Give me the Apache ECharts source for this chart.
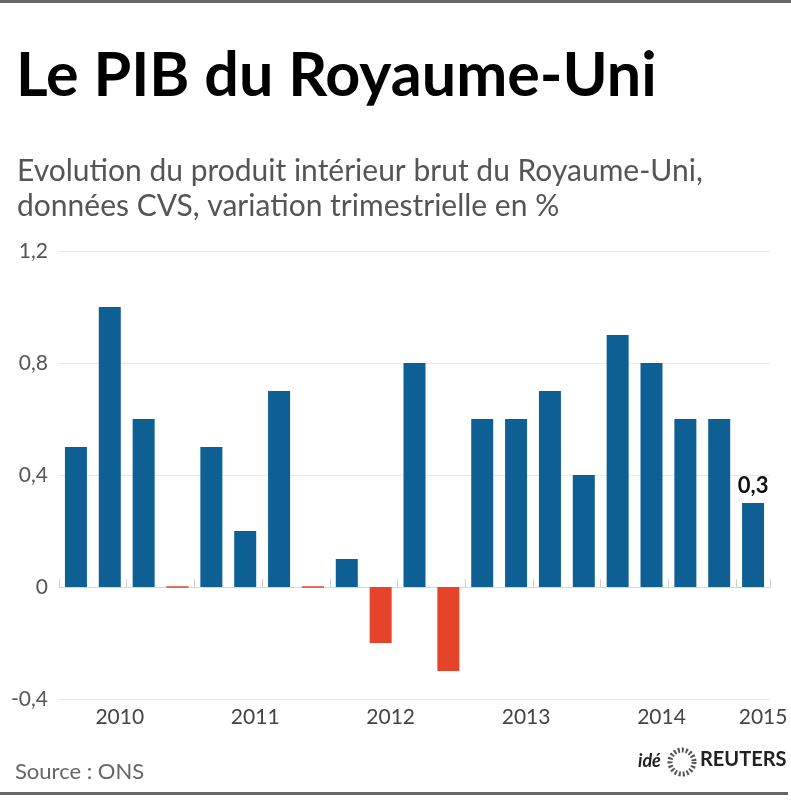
<!DOCTYPE html>
<html><head><meta charset="utf-8">
<script src="https://cdn.jsdelivr.net/npm/echarts@6/dist/echarts.min.js"></script>
<style>html,body{margin:0;padding:0;background:#fff;}#c{width:791px;height:800px;}</style>
</head><body><div id="c"></div>
<script>
const quarters = ['2010T1','2010T2','2010T3','2010T4','2011T1','2011T2','2011T3','2011T4','2012T1','2012T2','2012T3','2012T4','2013T1','2013T2','2013T3','2013T4','2014T1','2014T2','2014T3','2014T4','2015T1'];
const values = [0.5,1.0,0.6,0.0,0.5,0.2,0.7,0.0,0.1,-0.2,0.8,-0.3,0.6,0.6,0.7,0.4,0.9,0.8,0.6,0.6,0.3];
const yearLabels = {1:'2010',5:'2011',9:'2012',13:'2013',17:'2014',20:'2015'};
const yTicks = {min:-0.4,max:1.2,interval:0.4};
const BLUE = '#0d5f94', RED = '#e5432a';

const chart = echarts.init(document.getElementById('c'), null, {renderer:'canvas'});
chart.setOption({
  backgroundColor:'#fff',
  animation:false,
  grid:{left:59,right:21,top:251,bottom:101},
  xAxis:[{
    type:'category', data:quarters, boundaryGap:true,
    axisLine:{show:true,onZero:true,lineStyle:{color:'#d8d8d8',width:1}},
    axisTick:{show:true,inside:true,length:8,lineStyle:{color:'#cfcfcf'}},
    axisLabel:{show:false}
  },{
    type:'category', data:quarters, position:'bottom', boundaryGap:true,
    axisLine:{show:false,onZero:false}, axisTick:{show:false},
    axisLabel:{show:true,interval:0,margin:8,color:'#444',fontFamily:'Lato',fontSize:21,
      padding:[0,0,0,20],
      formatter:(v,i)=>yearLabels[i]||''}
  }],
  yAxis:{
    type:'value', min:yTicks.min, max:yTicks.max, interval:yTicks.interval,
    axisLine:{show:false}, axisTick:{show:false},
    splitLine:{lineStyle:{color:'#e8e8e8',width:1}},
    axisLabel:{margin:11,color:'#555',fontFamily:'Lato',fontSize:21,
      formatter:v=>String(Math.round(v*10)/10).replace('.',',')}
  },
  series:[{
    type:'bar', xAxisIndex:0, barWidth:22,
    data:values.map((v,i)=>({value:v,
      itemStyle:{color: v>0?BLUE:RED, borderColor: v===0?RED:'transparent', borderWidth: v===0?1:0},
      label: i===values.length-1 ? {show:true,position:'top',distance:6,formatter:p=>String(p.value).replace('.',','),color:'#111',fontWeight:'bold',fontFamily:'Lato',fontSize:22} : {show:false}
    }))
  }],
  graphic:[
    {type:'rect',shape:{x:0,y:0,width:791,height:3},style:{fill:'#666'}},
    {type:'text',left:16,top:46,style:{text:'Le PIB du Royaume-Uni',fill:'#000',font:'bold 61px Lato'}},
    {type:'text',left:17,top:154,style:{text:'Evolution du produit intérieur brut du Royaume-Uni,\ndonnées CVS, variation trimestrielle en %',fill:'#555',font:'30px Lato',lineHeight:35}},
    {type:'text',left:15,top:761,style:{text:'Source : ONS',fill:'#666',font:'22px Lato'}},
    {type:'text',left:638,top:752,style:{text:'idé',fill:'#222',font:'italic bold 18px Lato'}},
    {type:'circle',shape:{cx:682,cy:762,r:12},style:{fill:'#fff',stroke:'#555',lineWidth:5,lineDash:[2,2]}},
    {type:'text',left:700,top:750,style:{text:'REUTERS',fill:'#222',font:'bold 20px Lato'}},
    {type:'rect',shape:{x:0,y:792,width:788,height:3},style:{fill:'#666'}}
  ]
});
</script></body></html>
